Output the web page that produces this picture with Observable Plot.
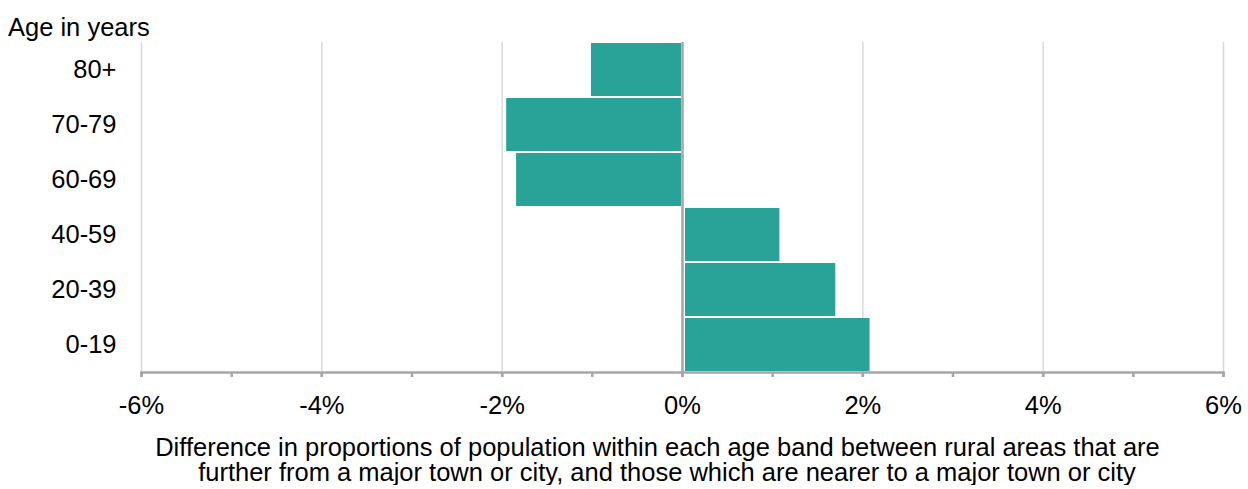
<!DOCTYPE html>
<html>
<head>
<meta charset="utf-8">
<script src="https://cdn.jsdelivr.net/npm/d3@7"></script>
<script src="https://cdn.jsdelivr.net/npm/@observablehq/plot@0.6"></script>
<style>
  body { margin: 0; background: #fff; font-family: "Liberation Sans", Arial, sans-serif; }
  #wrap { position: relative; width: 1248px; }
  #title { position: absolute; left: 8px; top: 13px; font-size: 25.5px; color: #000; white-space: nowrap; }
  #caption { margin-top: 10px; font-size: 25.5px; line-height: 25px; color: #000; }
  #caption div { text-align: center; white-space: nowrap; }
  #cap1 { width: 1181px; padding-left: 67px; }
  #cap2 { width: 1162px; padding-left: 86px; }
</style>
</head>
<body>
<div id="wrap">
  <div id="title">Age in years</div>
  <div id="chart"></div>
  <div id="caption">
    <div id="cap1">Difference in proportions of population within each age band between rural areas that are</div>
    <div id="cap2">further from a major town or city, and those which are nearer to a major town or city</div>
  </div>
</div>
<script>
const ageBands = ["80+", "70-79", "60-69", "40-59", "20-39", "0-19"];
const differences = [-1.01, -1.95, -1.84, 1.08, 1.70, 2.08];
const majorTicks = [-6, -4, -2, 0, 2, 4, 6];
const minorTicks = [-6, -5, -4, -3, -2, -1, 0, 1, 2, 3, 4, 5, 6];

const data = ageBands.map((band, i) => ({band, value: differences[i]}));
const teal = "#29a397";

const chart = Plot.plot({
  width: 1248,
  height: 425,
  marginTop: 42,
  marginBottom: 53,
  marginLeft: 141,
  marginRight: 25,
  style: {fontFamily: "'Liberation Sans', Arial, sans-serif", fontSize: "25.5px", color: "#000", background: "#fff", overflow: "visible"},
  x: {domain: [-6, 6], label: null},
  y: {domain: ageBands, label: null, paddingInner: 0.04, paddingOuter: 0},
  marks: [
    Plot.gridX(majorTicks, {stroke: "#d9d9d9", strokeOpacity: 1, strokeWidth: 1.5}),
    Plot.barX(data.filter(d => d.value >= 0), {x1: 0, x2: "value", y: "band", fill: teal, insetLeft: 3}),
    Plot.barX(data.filter(d => d.value < 0), {x1: "value", x2: 0, y: "band", fill: teal, insetRight: 1}),
    Plot.ruleX([0], {stroke: "#a6a6a6", strokeWidth: 2.5}),
    Plot.axisY({tickSize: 0, tickPadding: 25, fontSize: 25.5, label: null}),
    Plot.axisX(minorTicks, {tickSize: 5, stroke: "#a6a6a6", strokeWidth: 2.5, tickFormat: () => "", label: null}),
    Plot.axisX(majorTicks, {tickSize: 5, stroke: "#a6a6a6", strokeWidth: 2.5, tickPadding: 18, fontSize: 25.5, tickFormat: d => `${d}%`, label: null}),
    Plot.frame({anchor: "bottom", stroke: "#a6a6a6", strokeWidth: 2.5})
  ]
});
document.getElementById("chart").appendChild(chart);
</script>
</body>
</html>
